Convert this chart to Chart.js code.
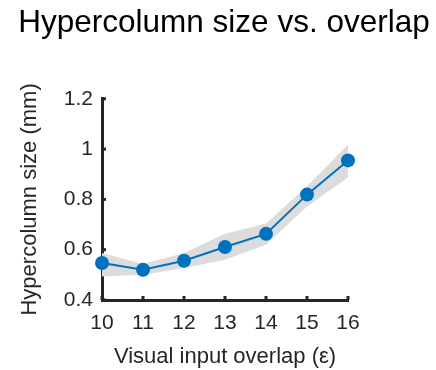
<!DOCTYPE html>
<html>
<head>
<meta charset="utf-8">
<script src="https://cdn.jsdelivr.net/npm/chart.js@4"></script>
<style>
  html, body { margin: 0; padding: 0; background: #fff; }
  #wrap { width: 436px; height: 370px; }
</style>
</head>
<body>
<div id="wrap"><canvas id="chart"></canvas></div>
<script>
// values
var overlap = [10, 11, 12, 13, 14, 15, 16];
var meanSize = [0.547, 0.52, 0.556, 0.611, 0.663, 0.819, 0.955];
var upperSize = [0.587, 0.543, 0.587, 0.663, 0.704, 0.852, 1.017];
var lowerSize = [0.493, 0.50, 0.527, 0.56, 0.62, 0.772, 0.887];
var yTicks = [0.4, 0.6, 0.8, 1, 1.2];

var axisColor = '#262626';

function pts(ys) {
    return overlap.map(function (x, i) { return { x: x, y: ys[i] }; });
}

// MATLAB style ticks pointing into the plot
var inwardTicks = {
    id: 'inwardTicks',
    afterDraw: function (chart) {
        var c = chart.ctx, a = chart.chartArea;
        var xs = chart.scales.x, ys = chart.scales.y;
        c.save();
        c.strokeStyle = axisColor;
        c.lineWidth = 3;
        ys.ticks.forEach(function (t) {
            var py = ys.getPixelForValue(t.value);
            c.beginPath(); c.moveTo(a.left, py); c.lineTo(a.left + 4, py); c.stroke();
        });
        xs.ticks.forEach(function (t) {
            var px = xs.getPixelForValue(t.value);
            c.beginPath(); c.moveTo(px, a.bottom); c.lineTo(px, a.bottom - 4); c.stroke();
        });
        c.restore();
    }
};

var ctx = document.getElementById('chart').getContext('2d');
var chart = new Chart(ctx, {
    type: 'line',
    data: {
        datasets: [{
            label: 'Mean',
            data: pts(meanSize),
            borderColor: '#0072BD',
            backgroundColor: '#0072BD',
            borderWidth: 2,
            pointRadius: 7,
            pointBorderWidth: 0,
            fill: false,
            clip: false
        }, {
            label: 'Upper',
            data: pts(upperSize),
            borderColor: 'rgba(0,0,0,0)',
            borderWidth: 0,
            pointRadius: 0,
            backgroundColor: '#dcdcdc',
            fill: '+1'
        }, {
            label: 'Lower',
            data: pts(lowerSize),
            borderColor: 'rgba(0,0,0,0)',
            borderWidth: 0,
            pointRadius: 0,
            fill: false
        }]
    },
    options: {
        responsive: true,
        maintainAspectRatio: false,
        animation: false,
        layout: { padding: { left: 12, right: 0, top: 0, bottom: 0 } },
        plugins: {
            legend: { display: false },
            tooltip: { enabled: false },
            title: {
                display: true,
                text: 'Hypercolumn size vs. overlap',
                color: '#000',
                font: { family: 'Liberation Sans, Arial, sans-serif', size: 31.5, weight: 'normal' },
                padding: { top: 4, bottom: 57 }
            }
        },
        scales: {
            x: {
                type: 'linear',
                min: 10,
                max: 16,
                grid: { display: false, drawTicks: false },
                border: { display: true, color: axisColor, width: 3 },
                ticks: {
                    stepSize: 1,
                    color: axisColor,
                    padding: 11,
                    font: { family: 'Liberation Sans, Arial, sans-serif', size: 21 }
                },
                title: {
                    display: true,
                    text: 'Visual input overlap (ε)',
                    color: axisColor,
                    padding: { top: 0, bottom: 0 },
                    font: { family: 'Liberation Sans, Arial, sans-serif', size: 22 }
                },
                afterFit: function (s) { s.height = 70; }
            },
            y: {
                min: 0.4,
                max: 1.2,
                afterBuildTicks: function (s) {
                    s.ticks = yTicks.map(function (v) { return { value: v }; });
                },
                grid: { display: false, drawTicks: false },
                border: { display: true, color: axisColor, width: 3 },
                ticks: {
                    color: axisColor,
                    padding: 9,
                    font: { family: 'Liberation Sans, Arial, sans-serif', size: 21 },
                    callback: function (v) { return String(Math.round(v * 10) / 10); }
                },
                title: {
                    display: true,
                    text: 'Hypercolumn size (mm)',
                    color: axisColor,
                    padding: { top: 5, bottom: 0 },
                    font: { family: 'Liberation Sans, Arial, sans-serif', size: 22 }
                },
                afterFit: function (s) { s.width = 90; }
            },
            spacer: {
                position: 'right',
                display: true,
                grid: { display: false, drawTicks: false },
                border: { display: false },
                ticks: { display: false },
                afterFit: function (s) { s.width = 88; }
            }
        }
    },
    plugins: [inwardTicks]
});
</script>
</body>
</html>
